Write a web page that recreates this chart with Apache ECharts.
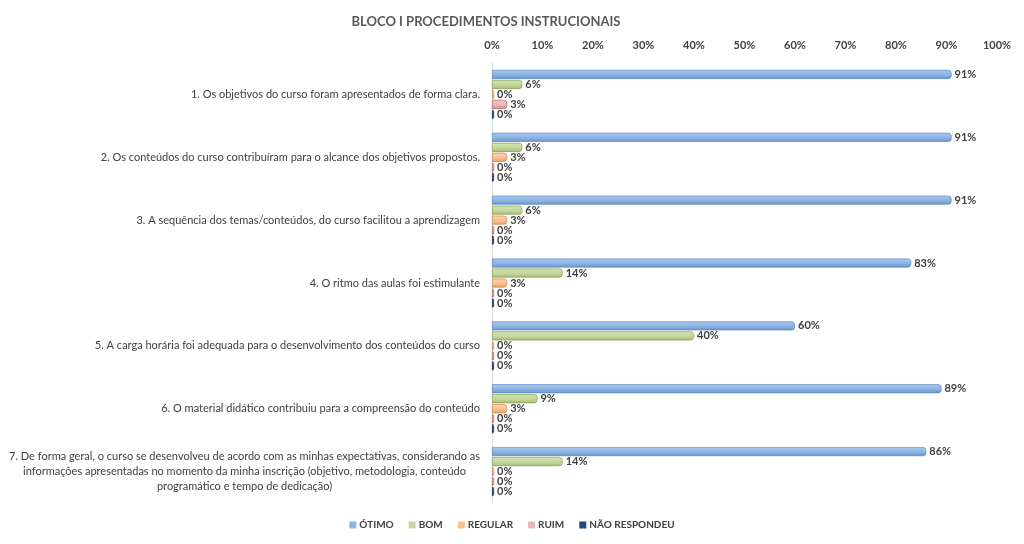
<!DOCTYPE html>
<html><head><meta charset="utf-8">
<script src="https://cdn.jsdelivr.net/npm/echarts@6/dist/echarts.min.js"></script>
<style>html,body{margin:0;padding:0;background:#fff}#c{width:1024px;height:544px}</style>
</head><body><div id="c"></div>
<script>
const categories = [
  '1. Os objetivos do curso foram apresentados de forma clara.',
  '2. Os conteúdos do curso contribuíram para o alcance dos objetivos propostos.',
  '3. A sequência dos temas/conteúdos, do curso facilitou a aprendizagem',
  '4. O ritmo das aulas foi estimulante',
  '5. A carga horária foi adequada para o desenvolvimento dos conteúdos do curso',
  '6. O material didático contribuiu para a compreensão do conteúdo',
  '7. De forma geral, o curso se desenvolveu de acordo com as minhas expectativas, considerando as\ninformações apresentadas no momento da minha inscrição (objetivo, metodologia, conteúdo\nprogramático e tempo de dedicação)'
];
const seriesNames = ['ÓTIMO', 'BOM', 'REGULAR', 'RUIM', 'NÃO RESPONDEU'];
const otimo = [91, 91, 91, 83, 60, 89, 86];
const bom = [6, 6, 6, 14, 40, 9, 14];
const regular = [0, 3, 3, 3, 0, 3, 0];
const ruim = [3, 0, 0, 0, 0, 0, 0];
const naoRespondeu = [0, 0, 0, 0, 0, 0, 0];
const xTicks = [0, 10, 20, 30, 40, 50, 60, 70, 80, 90, 100];

const values = [otimo, bom, regular, ruim, naoRespondeu];
const fills = [
  ['#A9C8EE', '#8DB3E2', '#6A93CB'],
  ['#D5E6B3', '#C3D69B', '#A5BE74'],
  ['#FCD1AE', '#FAC090', '#E3A06A'],
  ['#EDC9C8', '#E6B9B8', '#C98C8A'],
  ['#3C6398', '#1F497D', '#17375E']
];
const borders = ['#4F81BD', '#77933C', '#C77B3E', '#A34E4C', '#10253F'];
const legendColors = ['#8DB3E2', '#C3D69B', '#FAC090', '#E6B9B8', '#1F497D'];
const FONT = 'Lato';

const series = seriesNames.map((n, i) => ({
  name: n,
  type: 'bar',
  data: values[i],
  barWidth: 9,
  barGap: '11%',
  barMinHeight: 2,
  itemStyle: {
    color: new echarts.graphic.LinearGradient(0, 0, 0, 1, [
      {offset: 0, color: fills[i][0]},
      {offset: 0.55, color: fills[i][1]},
      {offset: 1, color: fills[i][2]}
    ]),
    borderColor: borders[i],
    borderWidth: 0.6,
    borderRadius: [0, 3, 3, 0]
  },
  label: {
    show: true,
    position: 'right',
    distance: 3,
    formatter: p => p.value + '%',
    fontFamily: FONT,
    fontSize: 11,
    fontWeight: 'bold',
    color: '#404040'
  }
}));

const chart = echarts.init(document.getElementById('c'));
chart.setOption({
  animation: false,
  title: {
    text: 'BLOCO I PROCEDIMENTOS INSTRUCIONAIS',
    left: 481, top: 10, textAlign: 'center',
    textStyle: {fontFamily: FONT, fontSize: 13, fontWeight: 'bold', color: '#595959'}
  },
  legend: {
    bottom: 9, left: 'center',
    itemWidth: 7, itemHeight: 7, itemGap: 15,
    icon: 'rect',
    data: seriesNames.map((n, i) => ({name: n, itemStyle: {color: legendColors[i], borderWidth: 0}})),
    textStyle: {fontFamily: FONT, fontSize: 10, fontWeight: 'bold', color: '#404040', padding: [0, 0, 0, -2]}
  },
  grid: {left: 492, right: 27, top: 63, bottom: 41, containLabel: false},
  xAxis: {
    type: 'value', position: 'top', min: 0, max: 100, interval: 10,
    axisLabel: {
      formatter: v => xTicks.includes(v) ? v + '%' : '',
      fontFamily: FONT, fontSize: 11, fontWeight: 'bold', color: '#404040', margin: 12
    },
    splitLine: {show: false}, axisLine: {show: false}, axisTick: {show: false}
  },
  yAxis: {
    type: 'category', data: categories, inverse: true,
    axisLine: {show: true, lineStyle: {color: '#D9D9D9', width: 1}},
    axisTick: {show: false},
    axisLabel: {
      margin: 12,
      formatter: v => '{c|' + v + '}',
      rich: {c: {align: 'center', fontFamily: FONT, fontSize: 11, color: '#404040', lineHeight: 15}}
    }
  },
  series: series
});
</script>
</body></html>
